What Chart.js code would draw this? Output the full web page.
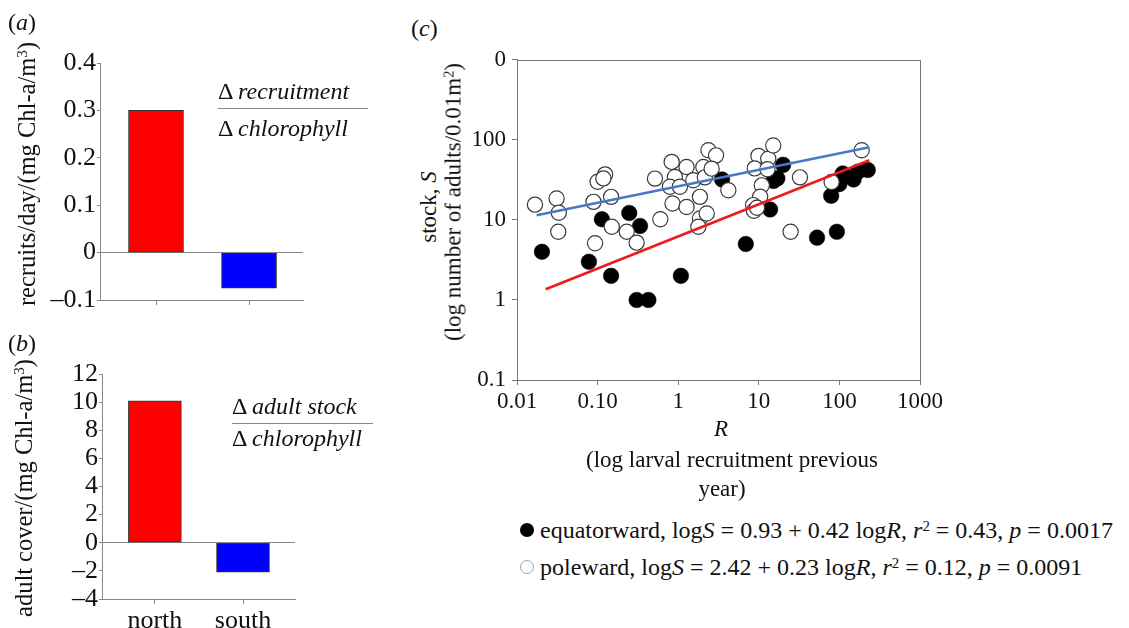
<!DOCTYPE html>
<html><head><meta charset="utf-8">
<script src="https://cdn.jsdelivr.net/npm/chart.js@4.4.1/dist/chart.umd.min.js"></script>
<style>
html,body{margin:0;padding:0;background:#fff;}
#wrap{position:relative;width:1129px;height:628px;overflow:hidden;background:#fff;font-family:"Liberation Serif","Times New Roman",serif;color:#111;}
#wrap canvas{position:absolute;}
.t{position:absolute;white-space:nowrap;font-size:23px;line-height:1;}
.c{transform:translate(-50%,-50%);}
.l{transform:translateY(-50%);}
.r{transform:translate(-50%,-50%) rotate(-90deg);}
.sup{font-size:0.62em;vertical-align:0.5em;line-height:0;}
.frac{position:absolute;height:0;border-top:1.5px solid #888;}
.mk{position:absolute;border-radius:50%;box-sizing:border-box;}
</style></head><body>
<div id="wrap">
<canvas id="ca" width="330" height="318" style="left:0;top:0"></canvas>
<canvas id="cb" width="330" height="298" style="left:0;top:330px"></canvas>
<canvas id="cc" width="500" height="390" style="left:460px;top:40px"></canvas>

<div class="t l" style="left:8px;top:22px;font-size:24px">(<i>a</i>)</div>
<div class="t l" style="left:8px;top:343px;font-size:24px">(<i>b</i>)</div>
<div class="t l" style="left:411px;top:28px;font-size:24px">(<i>c</i>)</div>

<div class="t r" style="left:27px;top:174px;font-size:24.5px">recruits/day/(mg Chl-a/m<span class="sup">3</span>)</div>
<div class="t r" style="left:24px;top:488px;font-size:24.5px">adult cover/(mg Chl-a/m<span class="sup">3</span>)</div>

<div class="t l" style="left:218px;top:91px;font-size:24px">Δ <i>recruitment</i></div>
<div class="frac" style="left:218px;top:108px;width:150px"></div>
<div class="t l" style="left:218px;top:128px;font-size:24px">Δ <i>chlorophyll</i></div>

<div class="t l" style="left:232px;top:406px;font-size:24px">Δ <i>adult stock</i></div>
<div class="frac" style="left:232px;top:423px;width:141px"></div>
<div class="t l" style="left:232px;top:438px;font-size:24px">Δ <i>chlorophyll</i></div>

<div class="t r" style="left:428px;top:207px">stock, <i>S</i></div>
<div class="t r" style="left:453px;top:202px">(log number of adults/0.01m<span class="sup">2</span>)</div>

<div class="t c" style="left:721px;top:428px"><i>R</i></div>
<div class="t c" style="left:732px;top:459px">(log larval recruitment previous</div>
<div class="t c" style="left:722px;top:488px">year)</div>

<div class="mk" style="left:520px;top:523px;width:14px;height:14px;background:#000"></div>
<div class="t l" style="left:540px;top:530px;font-size:24px">equatorward, log<i>S</i> = 0.93 + 0.42 log<i>R</i>, <i>r</i><span class="sup">2</span> = 0.43, <i>p</i> = 0.0017</div>
<div class="mk" style="left:520px;top:560px;width:14px;height:14px;border:1.5px solid #9aa3b8;background:#fff"></div>
<div class="t l" style="left:540px;top:567px;font-size:24px">poleward, log<i>S</i> = 2.42 + 0.23 log<i>R</i>, <i>r</i><span class="sup">2</span> = 0.12, <i>p</i> = 0.0091</div>
</div>

<script>
// ---- data: panels (a) and (b) ----
const categories = ['north', 'south'];
const recruitValues = [0.30, -0.075];
const stockValues = [10.1, -2.1];
const barColors = ['#ff0000', '#0000ff'];
const recruitTicks = [-0.1, 0, 0.1, 0.2, 0.3, 0.4];
const recruitTickLabels = ['–0.1', '0', '0.1', '0.2', '0.3', '0.4'];
const stockTicks = [-4, -2, 0, 2, 4, 6, 8, 10, 12];
const stockTickLabels = ['–4', '–2', '0', '2', '4', '6', '8', '10', '12'];

// ---- data: panel (c) ----
const equatorR = [0.0204, 0.078, 0.113, 0.147, 0.247, 0.336, 0.305, 0.427, 1.08, 3.5, 6.9, 13.8, 15.2, 17, 20, 52.8, 93, 79, 100, 110, 150, 170, 225];
const equatorS = [4.0, 3.0, 10.2, 2.0, 12.2, 8.4, 1.0, 1.0, 2.0, 32, 5.0, 13.5, 30.7, 33, 48.7, 6.0, 7.1, 20, 28, 38, 32, 40, 42];
const polewardR = [0.0167, 0.031, 0.033, 0.0325, 0.089, 0.093, 0.100, 0.124, 0.118, 0.147, 0.150, 0.23, 0.305, 0.515, 0.60, 0.83, 0.91, 0.79, 0.85, 1.05, 1.27, 1.27, 1.54, 2.05, 2.14, 1.86, 1.86, 1.78, 2.37, 2.95, 2.6, 2.26, 4.19, 9.9, 8.9, 13.1, 15.1, 12.8, 10.9, 10.4, 8.5, 8.7, 9.5, 32.4, 24.8, 80, 189];
const polewardS = [15.5, 18.5, 12.3, 7.1, 16.8, 5.1, 30, 37, 33, 19.4, 8.2, 7.1, 5.2, 32.8, 10.2, 53, 34.4, 26, 16, 26, 45.8, 14.5, 31.3, 45.8, 34, 19.4, 10.4, 8.2, 74, 64, 43.7, 12, 23.5, 63, 44, 58, 85, 43, 27, 19.5, 15.3, 13, 14.2, 34, 7.1, 29.8, 74];
const equatorFitR = [0.0227, 235];
const equatorFitS = [1.36, 55.5];
const polewardFitR = [0.0175, 235];
const polewardFitS = [11.4, 81];
const stockAxisTicks = [0.1, 1, 10, 100, 1000];
const stockAxisLabels = ['0.1', '1', '10', '100', '0'];
const recruitAxisTicks = [0.01, 0.1, 1, 10, 100, 1000];
const recruitAxisLabels = ['0.01', '0.10', '1', '10', '100', '1000'];

const FONT = "'Liberation Serif', 'Times New Roman', serif";
Chart.defaults.font.family = FONT;
Chart.defaults.color = '#111';

function barChart(id, values, yTicks, yLabels, showX, g) {
  new Chart(document.getElementById(id), {
    type: 'bar',
    data: {
      datasets: [{
        data: values.map((v, i) => ({ x: i, y: v })),
        backgroundColor: barColors,
        borderColor: '#333',
        borderWidth: 1,
        borderSkipped: false,
        barThickness: g.bar
      }]
    },
    options: {
      responsive: false, animation: false, events: [],
      layout: { padding: { left: 0, top: g.top, right: g.right, bottom: 0 } },
      plugins: { legend: { display: false }, tooltip: { enabled: false } },
      scales: {
        x: {
          type: 'linear', min: g.xmin, max: g.xmax, offset: false,
          afterBuildTicks: s => { s.ticks = categories.map((c, i) => ({ value: i })); },
          afterFit: s => { s.height = g.xh; },
          ticks: { display: showX, autoSkip: false, maxRotation: 0, padding: 2,
                   font: { size: 26 }, callback: (v, i) => categories[i] },
          grid: { drawOnChartArea: false, offset: false, tickLength: 5, color: '#888' },
          border: { color: '#888', width: 1 }
        },
        y: {
          min: yTicks[0], max: yTicks[yTicks.length - 1],
          afterBuildTicks: s => { s.ticks = yTicks.map(v => ({ value: v })); },
          afterFit: s => { s.width = g.yw; },
          ticks: { autoSkip: false, padding: 1, font: { size: 26 }, callback: (v, i) => yLabels[i] },
          grid: {
            color: c => (c.tick && c.tick.value === 0) ? '#888' : 'rgba(0,0,0,0)',
            tickColor: '#888', tickLength: 3, lineWidth: 1
          },
          border: { color: '#888', width: 1 }
        }
      }
    }
  });
}

barChart('ca', recruitValues, recruitTicks, recruitTickLabels, false,
  { top: 63, right: 27, yw: 100, xh: 18, bar: 55, xmin: -0.602, xmax: 1.58 });
barChart('cb', stockValues, stockTicks, stockTickLabels, true,
  { top: 44, right: 35, yw: 102, xh: 29, bar: 53, xmin: -0.6, xmax: 1.59 });

const framePlugin = {
  id: 'frame',
  afterDraw(chart) {
    const a = chart.chartArea, ctx = chart.ctx;
    ctx.save();
    ctx.strokeStyle = '#777';
    ctx.lineWidth = 1;
    ctx.strokeRect(Math.round(a.left) + 0.5, Math.round(a.top) + 0.5,
                   Math.round(a.right - a.left), Math.round(a.bottom - a.top));
    ctx.restore();
  }
};

const pts = (xs, ys) => xs.map((x, i) => ({ x: x, y: ys[i] }));

new Chart(document.getElementById('cc'), {
  type: 'scatter',
  data: {
    datasets: [
      { data: pts(equatorFitR, equatorFitS), showLine: true, borderColor: '#ee1b1b',
        borderWidth: 2.6, pointRadius: 0, fill: false },
      { data: pts(polewardFitR, polewardFitS), showLine: true, borderColor: '#4a78c4',
        borderWidth: 2.6, pointRadius: 0, fill: false },
      { data: pts(polewardR, polewardS), pointRadius: 7.6, borderWidth: 1.2,
        borderColor: '#3a3a3a', backgroundColor: '#ffffff' },
      { data: pts(equatorR, equatorS), pointRadius: 7.8, borderWidth: 0.5,
        borderColor: '#000', backgroundColor: '#000' }
    ]
  },
  options: {
    responsive: false, animation: false, events: [],
    layout: { padding: { left: 0, top: 19, right: 40, bottom: 0 } },
    plugins: { legend: { display: false }, tooltip: { enabled: false } },
    scales: {
      x: {
        type: 'logarithmic', min: 0.01, max: 1000,
        afterBuildTicks: s => { s.ticks = recruitAxisTicks.map(v => ({ value: v })); },
        afterFit: s => { s.height = 50; },
        ticks: { autoSkip: false, maxRotation: 0, padding: 3, font: { size: 23 },
                 callback: (v, i) => recruitAxisLabels[i] },
        grid: { drawOnChartArea: false, tickLength: 5, color: '#777' },
        border: { color: '#777' }
      },
      y: {
        type: 'logarithmic', min: 0.1, max: 1000,
        afterBuildTicks: s => { s.ticks = stockAxisTicks.map(v => ({ value: v })); },
        afterFit: s => { s.width = 57; },
        ticks: { autoSkip: false, padding: 6, font: { size: 23 },
                 callback: (v, i) => stockAxisLabels[i] },
        grid: { drawOnChartArea: false, tickLength: 5, color: '#777' },
        border: { color: '#777' }
      }
    }
  },
  plugins: [framePlugin]
});
</script>
</body></html>
